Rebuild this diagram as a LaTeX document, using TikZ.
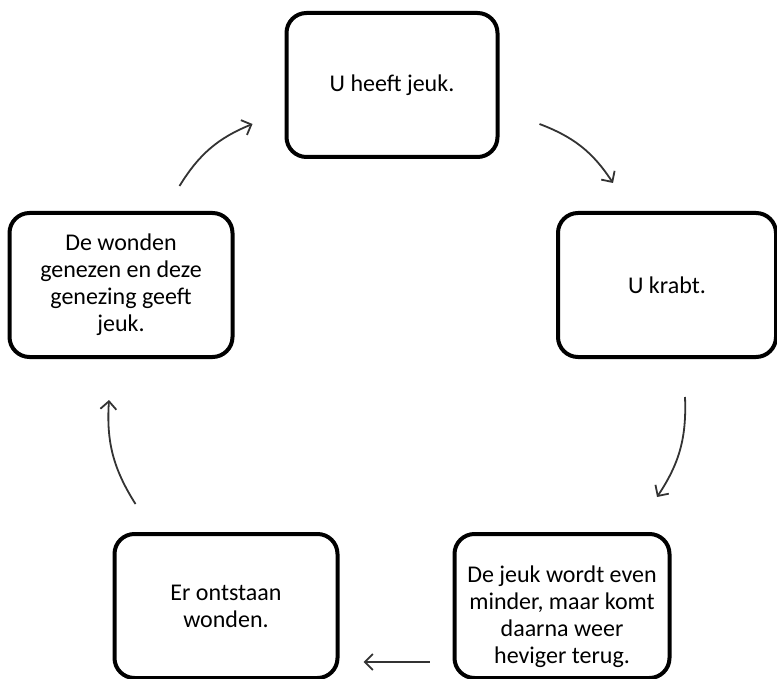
\documentclass[tikz,border=0pt]{standalone}
\usepackage{fontspec}
\setmainfont{Carlito}
\usetikzlibrary{arrows.meta}

\begin{document}
\begin{tikzpicture}[x=1pt,y=-1pt,
    stap/.style={rectangle,rounded corners=20pt,line width=4pt,draw,
		minimum width=218pt,minimum height=144pt,align=center,
		font=\fontsize{24}{27}\selectfont},
% Arrow style
    pijl/.style={->,line width=1.8pt,draw=black!80,
		>={Straight Barb[length=8pt,width=16pt]}}
    ]
\useasboundingbox (0,0) rectangle (777,679);
\node [stap,minimum width=211pt] (jeuk) at (392,85) {U heeft jeuk.};
\node [stap] (krabt) at (667,285) {U krabt.};
\node [stap,minimum width=215pt] (minder) at (562,606) {\rule{0pt}{38pt}De jeuk wordt even\\minder, maar komt\\daarna weer\\heviger terug.};
\node [stap,minimum width=223pt] (wonden) at (226,606) {Er ontstaan\\wonden.};
\node [stap,minimum width=223pt] (genezen) at (121,285) {De wonden\\genezen en deze\\genezing geeft\\jeuk.};

\draw [pijl] ([xshift=40pt,yshift=35pt]jeuk.south east) to [bend left=18] ([xshift=57pt,yshift=28pt]krabt.north west);
\draw [pijl] ([xshift=18pt,yshift=-38pt]krabt.south) to [bend left=18] ([xshift=95pt,yshift=35pt]minder.north);
\draw [pijl] ([xshift=-23pt,yshift=-56pt]minder.west) -- ([xshift=24pt,yshift=-56pt]wonden.east);
\draw [pijl] ([xshift=23pt,yshift=28pt]wonden.north west) to [bend left=18] ([xshift=-12pt,yshift=-41pt]genezen.south);
\draw [pijl] ([xshift=-55pt,yshift=25pt]genezen.north east) to [bend left=18] ([xshift=-32pt,yshift=-39pt]jeuk.west);
\end{tikzpicture}
\end{document}
